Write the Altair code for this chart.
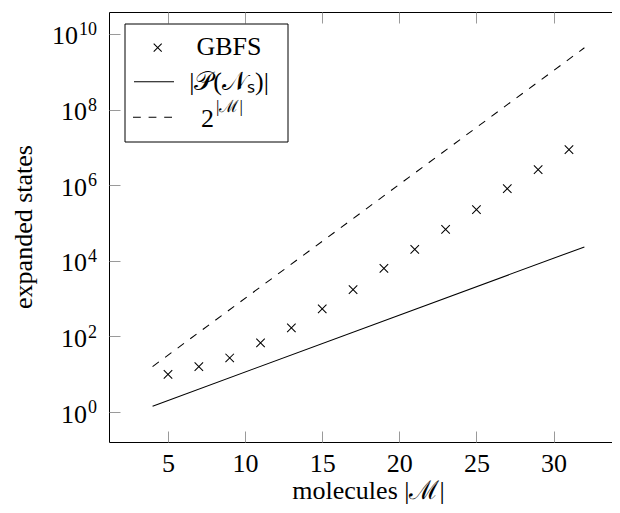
import altair as alt
import pandas as pd

FONT = "Liberation Serif"
FS = 26
FS_SUP = 17

# ---- data ----
gbfs_x = [5, 7, 9, 11, 13, 15, 17, 19, 21, 23, 25, 27, 29, 31]
gbfs_y = [10, 16, 27, 68, 170, 540, 1740, 6300, 20000, 68000, 226000, 810000, 2600000, 8700000]
ps_x = [4, 32]
ps_y = [1.44, 23400]
pow_x = [4, 32]
pow_y = [16, 4.3e9]

x_ticks = [5, 10, 15, 20, 25, 30]
y_exps = [0, 2, 4, 6, 8, 10]
x_domain = [1.174, 33.79]
y_domain = [10 ** -0.79, 10 ** 10.58]

legend_labels = ["GBFS", "|𝒫(𝒩ₛ)|", "2"]
legend_sup = "|ℳ|"
x_title = "molecules |ℳ|"
y_title = "expanded states"

W, H = 503, 430

gbfs = pd.DataFrame({"x": gbfs_x, "y": gbfs_y})
ps = pd.DataFrame({"x": ps_x, "y": ps_y})
pw = pd.DataFrame({"x": pow_x, "y": pow_y})
one = pd.DataFrame({"a": [0]})
ylab = pd.DataFrame({
    "v": [10 ** e for e in y_exps],
    "base": ["10"] * len(y_exps),
    "exp": [str(e) for e in y_exps],
    "nd": [len(str(e)) for e in y_exps],
})

xs = alt.Scale(domain=x_domain, nice=False, zero=False)
ys = alt.Scale(type="log", domain=y_domain, nice=False)
y_vals = [10 ** e for e in y_exps]

TICK = "#9a9a9a"
LW = 1.05

ax_bottom_dom = alt.Axis(orient="bottom", domain=True, domainColor="black", domainWidth=1,
                         ticks=False, labels=False, grid=False, title=None)
ax_bottom_ticks = alt.Axis(orient="bottom", offset=-11, domain=False, ticks=True, tickSize=11,
                           tickColor=TICK, tickWidth=1, values=x_ticks, labels=True,
                           labelFont=FONT, labelFontSize=FS, labelColor="black",
                           labelPadding=8, grid=False, title=None)
ax_top_dom = alt.Axis(orient="top", domain=True, domainColor="black", domainWidth=1,
                      ticks=False, labels=False, grid=False, title=None)
ax_top_ticks = alt.Axis(orient="top", offset=-11, domain=False, ticks=True, tickSize=11,
                        tickColor=TICK, tickWidth=1, values=x_ticks, labels=False,
                        grid=False, title=None)
ax_left_dom = alt.Axis(orient="left", domain=True, domainColor="black", domainWidth=1,
                       ticks=False, labels=False, grid=False, title=None)
ax_left_ticks = alt.Axis(orient="left", offset=-11, domain=False, ticks=True, tickSize=11,
                         tickColor=TICK, tickWidth=1, values=y_vals, labels=False,
                         grid=False, title=None)

solid = alt.Chart(ps).mark_line(color="black", strokeWidth=LW).encode(
    x=alt.X("x:Q", scale=xs, axis=ax_bottom_dom),
    y=alt.Y("y:Q", scale=ys, axis=ax_left_dom),
)
dashed = alt.Chart(pw).mark_line(color="black", strokeWidth=LW, strokeDash=[7.8, 7.8]).encode(
    x=alt.X("x:Q", scale=xs, axis=ax_bottom_ticks),
    y=alt.Y("y:Q", scale=ys, axis=ax_left_ticks),
)
XSHAPE = "M-1,-1L1,1M-1,1L1,-1"
pts = alt.Chart(gbfs).mark_point(shape=XSHAPE, filled=False, color="black", strokeWidth=LW,
                                 size=72, opacity=1).encode(
    x=alt.X("x:Q", scale=xs, axis=ax_top_dom),
    y=alt.Y("y:Q", scale=ys, axis=None),
)
ghost = alt.Chart(gbfs).mark_point(opacity=0).encode(
    x=alt.X("x:Q", scale=xs, axis=ax_top_ticks),
    y=alt.Y("y:Q", scale=ys, axis=None),
)

# y tick labels: base "10" with raised exponent
ybase = alt.Chart(ylab).transform_calculate(px="-13 - datum.nd * 9").mark_text(
    font=FONT, fontSize=FS, align="right", baseline="alphabetic", dy=10.5, color="black"
).encode(x=alt.X("px:Q", scale=None), y=alt.Y("v:Q", scale=ys, axis=None), text="base:N")
yexp = alt.Chart(ylab).mark_text(
    font=FONT, fontSize=18, align="right", baseline="alphabetic", dy=1.1, color="black"
).encode(x=alt.value(-12), y=alt.Y("v:Q", scale=ys, axis=None), text="exp:N")

# ---- legend (drawn manually) ----
box = alt.Chart(one).mark_rect(fill="white", stroke="black", strokeWidth=1).encode(
    x=alt.value(16), x2=alt.value(179), y=alt.value(12), y2=alt.value(130))
leg_pt = alt.Chart(one).mark_point(shape=XSHAPE, filled=False, color="black", strokeWidth=LW,
                                   size=64, opacity=1).encode(x=alt.value(48.7), y=alt.value(35.7))
leg_solid = alt.Chart(one).mark_rule(color="black", strokeWidth=LW).encode(
    x=alt.value(25), x2=alt.value(65), y=alt.value(69.7))
leg_dash = alt.Chart(one).mark_rule(color="black", strokeWidth=LW, strokeDash=[7.8, 7.8]).encode(
    x=alt.value(24), x2=alt.value(66), y=alt.value(105.3))
leg_t1 = alt.Chart(one).mark_text(text=legend_labels[0], font=FONT, fontSize=FS, align="center",
                                  baseline="alphabetic", color="black").encode(
    x=alt.value(120), y=alt.value(43))
leg_t2 = alt.Chart(one).mark_text(text=legend_labels[1], font=FONT, fontSize=FS, align="center",
                                  baseline="alphabetic", color="black").encode(
    x=alt.value(120), y=alt.value(77.5))
leg_t3 = alt.Chart(one).mark_text(text=legend_labels[2], font=FONT, fontSize=FS, align="right",
                                  baseline="alphabetic", color="black").encode(
    x=alt.value(105), y=alt.value(115))
leg_t3s = alt.Chart(one).mark_text(text=legend_sup, font=FONT, fontSize=FS_SUP, align="left",
                                   baseline="alphabetic", color="black").encode(
    x=alt.value(107), y=alt.value(100))

xt = alt.Chart(one).mark_text(text=x_title, font=FONT, fontSize=FS, align="center",
                              baseline="alphabetic", color="black").encode(
    x=alt.value(259.5), y=alt.value(487))
yt = alt.Chart(one).mark_text(text=y_title, font=FONT, fontSize=FS, align="center",
                              baseline="alphabetic", angle=270, color="black").encode(
    x=alt.value(-77), y=alt.value(215))

chart = alt.layer(
    solid, dashed, pts, ghost, ybase, yexp,
    box, leg_pt, leg_solid, leg_dash, leg_t1, leg_t2, leg_t3, leg_t3s, xt, yt
).resolve_axis(x="independent", y="independent").properties(
    width=W, height=H,
    autosize=alt.AutoSizeParams(type="none"),
    padding={"left": 101, "top": 4, "right": 0, "bottom": 62},
).configure_view(strokeWidth=0)

chart.save("out.html", embed_options={"renderer": "svg", "actions": False})
